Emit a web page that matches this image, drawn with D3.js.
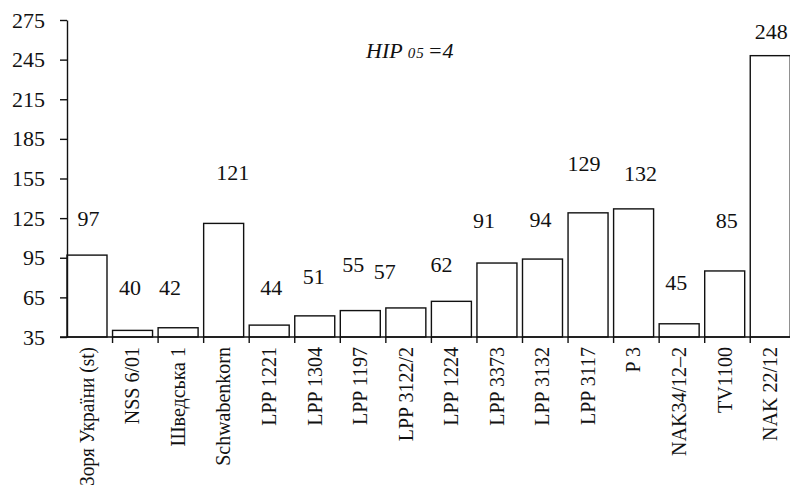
<!DOCTYPE html>
<html>
<head>
<meta charset="utf-8">
<script src="https://cdn.jsdelivr.net/npm/d3@7"></script>
<style>
  html, body { margin: 0; padding: 0; background: #fff; }
  svg { display: block; }
  text { font-family: "Liberation Serif", "Times New Roman", serif; fill: #111; }
</style>
</head>
<body>
<script>
// Varieties and their measured values
const categories = [
  "Зоря України (st)", "NSS 6/01", "Шведська 1", "Schwabenkorn",
  "LPP 1221", "LPP 1304", "LPP 1197", "LPP 3122/2", "LPP 1224",
  "LPP 3373", "LPP 3132", "LPP 3117", "P 3", "NAK34/12–2",
  "TV1100", "NAK 22/12"
];
const values = [97, 40, 42, 121, 44, 51, 55, 57, 62, 91, 94, 129, 132, 45, 85, 248];
const yTicks = [35, 65, 95, 125, 155, 185, 215, 245, 275];

// Hand-placed value labels: [shift right, lift above bar top] in px
const labelShift = [
  [1.5, 37], [-2.5, 43], [-8, 40], [9, 51], [2, 38], [-1, 40], [-7, 46], [-21, 37],
  [-10, 37], [-13, 43], [-2, 40], [-4, 50], [7, 36], [-3, 41], [2, 51], [1, 24]
];

const W = 790, H = 489;
const x0 = 67, band = 45.55, y0 = 337, yTop = 20;

const svg = d3.select("body").append("svg")
  .attr("width", W).attr("height", H);

const x = d3.scaleBand()
  .domain(categories)
  .range([x0, x0 + band * categories.length])
  .paddingInner(0).paddingOuter(0);
const barW = x.bandwidth() * 0.878;

const y = d3.scaleLinear().domain([35, 275]).range([y0, yTop]);

// Bars
svg.append("g").selectAll("rect")
  .data(values)
  .join("rect")
  .attr("x", (d, i) => x(categories[i]))
  .attr("y", d => y(d))
  .attr("width", barW)
  .attr("height", d => y0 - y(d))
  .attr("fill", "#fff")
  .attr("stroke", "#111")
  .attr("stroke-width", 1.4);

// Y axis
const yAxis = svg.append("g")
  .attr("transform", `translate(${x0},0)`)
  .call(d3.axisLeft(y).tickValues(yTicks).tickSize(7).tickPadding(15).tickSizeOuter(0));
yAxis.select(".domain").attr("stroke", "#111").attr("stroke-width", 1.4);
yAxis.selectAll(".tick line").attr("stroke", "#111").attr("stroke-width", 1.4);
yAxis.selectAll(".tick text")
  .attr("font-size", 22)
  .attr("font-family", "Liberation Serif, Times New Roman, serif")
  .attr("fill", "#111");

// X axis: baseline with category separator ticks
const xg = svg.append("g");
xg.append("line")
  .attr("x1", x0 - 7).attr("x2", W)
  .attr("y1", y0).attr("y2", y0)
  .attr("stroke", "#111").attr("stroke-width", 1.4);
xg.selectAll("line.sep")
  .data(categories.slice(1))
  .join("line")
  .attr("class", "sep")
  .attr("x1", d => x(d)).attr("x2", d => x(d))
  .attr("y1", y0).attr("y2", y0 + 6)
  .attr("stroke", "#111").attr("stroke-width", 1.4);

// Category labels, rotated; long ones are squeezed to stay on the page
const labelStart = y0 + 10;
const room = H - labelStart - 3;
xg.selectAll("text.cat")
  .data(categories)
  .join("text")
  .attr("class", "cat")
  .attr("transform", d => `translate(${x(d) + barW / 2},${labelStart}) rotate(-90)`)
  .attr("text-anchor", "end")
  .attr("dy", "0.34em")
  .attr("font-size", 20)
  .text(d => d)
  .each(function () {
    const len = this.getComputedTextLength();
    if (len > room) {
      d3.select(this).attr("textLength", room).attr("lengthAdjust", "spacingAndGlyphs");
    }
  });

// Value labels
svg.append("g").selectAll("text")
  .data(values)
  .join("text")
  .attr("x", (d, i) => x(categories[i]) + barW / 2 + labelShift[i][0])
  .attr("y", (d, i) => y(d) - labelShift[i][1])
  .attr("dy", "0.35em")
  .attr("text-anchor", "middle")
  .attr("font-size", 22)
  .text(d => d);

// Least significant difference note
const note = svg.append("text")
  .attr("x", 366).attr("y", 58)
  .attr("font-size", 22)
  .attr("font-style", "italic");
note.append("tspan").text("HIP");
note.append("tspan").attr("font-size", 15).attr("dx", 5).attr("letter-spacing", 1).text("05");
note.append("tspan").attr("dx", 3).text("=4");
</script>
</body>
</html>
